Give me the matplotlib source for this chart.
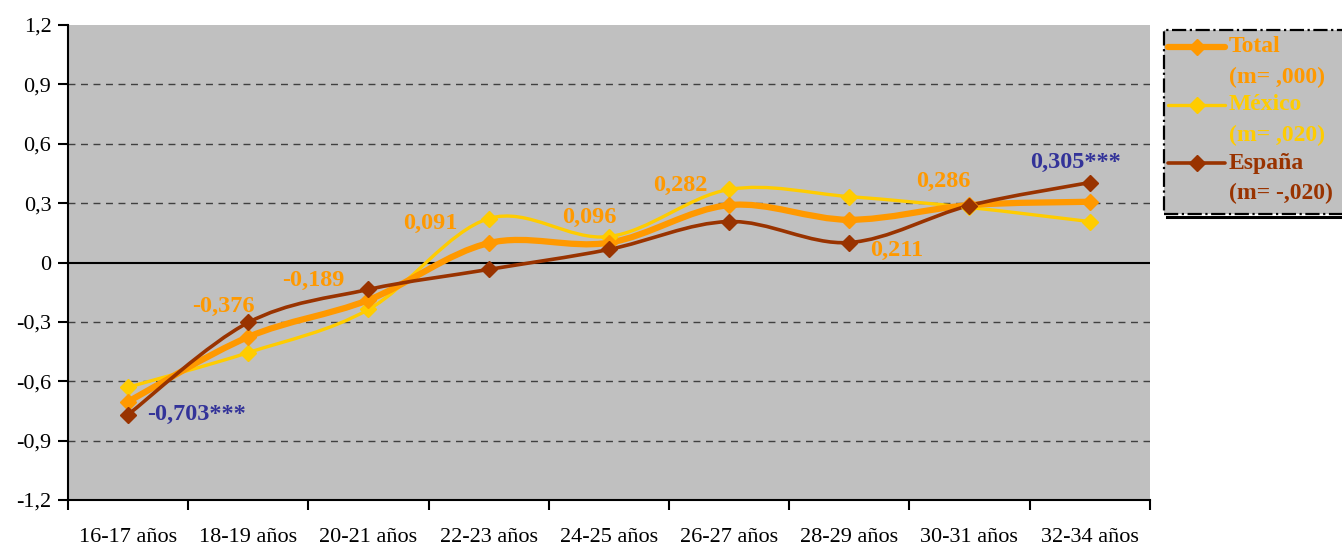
import numpy as np
import matplotlib.pyplot as plt
from matplotlib.path import Path
from matplotlib.patches import PathPatch, Rectangle
from matplotlib.lines import Line2D
from matplotlib.ticker import FuncFormatter, FixedLocator

plt.rcParams['font.family'] = ['Liberation Serif', 'DejaVu Serif']

# Datos
categorias = ['16-17 años', '18-19 años', '20-21 años', '22-23 años', '24-25 años',
              '26-27 años', '28-29 años', '30-31 años', '32-34 años']
total = [-0.703, -0.376, -0.189, 0.098, 0.100, 0.290, 0.216, 0.290, 0.307]
mexico = [-0.63, -0.455, -0.237, 0.222, 0.131, 0.369, 0.333, 0.278, 0.207]
espana = [-0.768, -0.303, -0.136, -0.035, 0.066, 0.207, 0.101, 0.288, 0.404]
etiquetas_total = ['-0,703***', '-0,376', '-0,189', '0,091', '0,096',
                   '0,282', '0,211', '0,286', '0,305***']
nombres = ['Total', 'México', 'España']
medias = ['(m= ,000)', '(m= ,020)', '(m= -,020)']

c_total = '#FF9900'
c_mex = '#FFCC00'
c_esp = '#993300'
c_azul = '#333399'


def curva_suave(ax, xs, ys, color, lw):
    # curva de Bezier tipo Catmull-Rom que pasa por los puntos (línea suavizada de Excel)
    pts = np.column_stack([xs, ys]).astype(float)
    verts = [pts[0]]
    codes = [Path.MOVETO]
    n = len(pts)
    for i in range(n - 1):
        p0 = pts[i - 1] if i > 0 else pts[i]
        p1 = pts[i]
        p2 = pts[i + 1]
        p3 = pts[i + 2] if i + 2 < n else pts[i + 1]
        verts += [p1 + (p2 - p0) / 6, p2 - (p3 - p1) / 6, p2]
        codes += [Path.CURVE4] * 3
    ax.add_patch(PathPatch(Path(verts, codes), facecolor='none', edgecolor=color,
                           lw=lw, capstyle='round', joinstyle='round', zorder=3))


fig = plt.figure(figsize=(13.42, 5.46), dpi=100)
ax = fig.add_axes([0.0507, 0.0842, 0.806, 0.870])
ax.set_facecolor('#C0C0C0')

x = np.arange(len(categorias))
ax.set_xlim(-0.5, len(categorias) - 0.5)
ax.set_ylim(-1.2, 1.2)

# rejilla
for v in np.arange(-0.9, 1.0, 0.3):
    if abs(v) > 1e-9:
        ax.axhline(v, color='#404040', lw=1.0, ls=(0, (5, 4)), zorder=1)
ax.axhline(0, color='black', lw=1.5, zorder=2)

curva_suave(ax, x, mexico, c_mex, 2.4)
curva_suave(ax, x, total, c_total, 4.5)
curva_suave(ax, x, espana, c_esp, 2.6)
ax.plot(x, mexico, ls='none', marker='D', ms=8, color=c_mex, zorder=4)
ax.plot(x, total, ls='none', marker='D', ms=8, color=c_total, zorder=5)
ax.plot(x, espana, ls='none', marker='D', ms=8, color=c_esp, zorder=6)

# etiquetas de Total
offsets = [(49, -9), (-18, 22), (-40, 14), (-42, 14), (-14, 18),
           (-35, 14), (34, -22), (-19, 17), (-10, 28)]
for i, (txt, off) in enumerate(zip(etiquetas_total, offsets)):
    color = c_azul if '***' in txt else c_total
    ax.annotate(txt, (x[i], total[i]), xytext=off, textcoords='offset points',
                ha='center', va='center', fontsize=17.5, fontweight='bold',
                color=color, zorder=7)

# ejes
for s in ['top', 'right']:
    ax.spines[s].set_visible(False)
ax.spines['left'].set_linewidth(1.5)
ax.spines['bottom'].set_linewidth(1.5)
ax.set_yticks(np.arange(-1.2, 1.21, 0.3))
ax.yaxis.set_major_formatter(FuncFormatter(
    lambda v, p: '0' if abs(v) < 1e-9 else f'{v:.1f}'.replace('.', ',')))
ax.tick_params(axis='y', direction='out', length=7, width=1.5, labelsize=16, pad=5)
ax.set_xticks(x)
ax.set_xticklabels(categorias)
ax.tick_params(axis='x', which='major', length=0, labelsize=16, pad=20)
ax.xaxis.set_minor_locator(FixedLocator(np.arange(-0.5, len(categorias), 1.0)))
ax.tick_params(axis='x', which='minor', direction='out', length=7, width=1.5)

# leyenda dibujada a mano (la línea va alineada con la primera línea del texto)
W, H = 1342.0, 546.0
caja = Rectangle((1164 / W, 1 - 214 / H), 190 / W, 184 / H, transform=fig.transFigure,
                 facecolor='#C0C0C0', edgecolor='black', lw=1.6, ls='-.', zorder=1)
fig.add_artist(caja)
fig.add_artist(Line2D([1167 / W, 1342 / W], [1 - 217 / H] * 2, transform=fig.transFigure,
                      color='black', lw=2.2))
colores = [c_total, c_mex, c_esp]
anchos = [4.5, 2.4, 2.6]
for k in range(3):
    yl = 1 - (47 + 58 * k) / H
    fig.add_artist(Line2D([1168 / W, 1225 / W], [yl, yl], transform=fig.transFigure,
                          color=colores[k], lw=anchos[k], solid_capstyle='round'))
    fig.add_artist(Line2D([1196.5 / W], [yl], transform=fig.transFigure,
                          color=colores[k], marker='D', ms=8, ls='none'))
    fig.text(1229 / W, yl, nombres[k], color=colores[k], fontsize=17, fontweight='bold',
             ha='left', va='center')
    fig.text(1229 / W, yl - 30 / H, medias[k], color=colores[k], fontsize=17,
             fontweight='bold', ha='left', va='center')

fig.savefig('out.png', dpi=100)
